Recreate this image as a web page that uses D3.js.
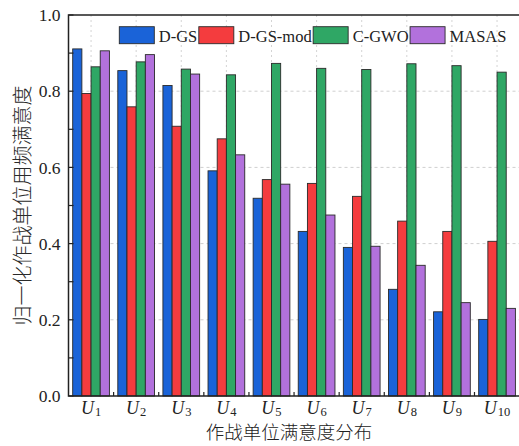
<!DOCTYPE html>
<html><head><meta charset="utf-8">
<script src="https://cdn.jsdelivr.net/npm/d3@7"></script>
<style>
html,body{margin:0;padding:0;background:#fff;}
svg{display:block;}
</style></head>
<body>
<script>
const categories = ["U1","U2","U3","U4","U5","U6","U7","U8","U9","U10"];
const seriesNames = ["D-GS","D-GS-mod","C-GWO","MASAS"];
const dgs    = [0.911,0.854,0.815,0.591,0.519,0.432,0.390,0.280,0.221,0.201];
const dgsMod = [0.794,0.759,0.708,0.675,0.568,0.558,0.524,0.459,0.432,0.406];
const cgwo   = [0.864,0.877,0.858,0.843,0.873,0.860,0.857,0.872,0.867,0.850];
const masas  = [0.906,0.896,0.845,0.633,0.556,0.475,0.393,0.343,0.245,0.230];
const colors = ["#1a63d8","#f43c3e","#2fa765","#b271dc"];
const yTicks = [0.0,0.2,0.4,0.6,0.8,1.0];
const xTitle = "作战单位满意度分布";
const yTitle = "归一化作战单位用频满意度";

const W = 519, H = 446;
const M = {left:68.5, right:519.6, top:15, bottom:396};
const seriesData = [dgs, dgsMod, cgwo, masas];

const svg = d3.select("body").append("svg").attr("width",W).attr("height",H);

const x = d3.scaleBand().domain(categories).range([M.left, M.right])
  .paddingInner(0.186).paddingOuter(0.093);
const xs = d3.scaleBand().domain(seriesNames).range([0, x.bandwidth()]);
const y = d3.scaleLinear().domain([0,1]).range([M.bottom, M.top]);

// grid
const grid = svg.append("g");
grid.selectAll("line.h").data(yTicks.filter(t=>t>0 && t<1)).join("line")
  .attr("x1",M.left).attr("x2",M.right).attr("y1",d=>y(d)).attr("y2",d=>y(d))
  .attr("stroke","#cfcfcf").attr("stroke-width",1).attr("stroke-dasharray","3,3");
grid.selectAll("line.v").data(categories).join("line")
  .attr("x1",d=>x(d)+x.bandwidth()/2).attr("x2",d=>x(d)+x.bandwidth()/2)
  .attr("y1",M.top).attr("y2",M.bottom)
  .attr("stroke","#d4d4d4").attr("stroke-width",1).attr("stroke-dasharray","2,3");

// bars
const rows = [];
categories.forEach((c,i)=>seriesNames.forEach((s,j)=>rows.push({c,s,j,v:seriesData[j][i]})));
svg.append("g").selectAll("rect").data(rows).join("rect")
  .attr("x",d=>x(d.c)+xs(d.s)).attr("width",xs.bandwidth())
  .attr("y",d=>y(d.v)).attr("height",d=>y(0)-y(d.v))
  .attr("fill",d=>colors[d.j]).attr("stroke","#2a2a2a").attr("stroke-width",0.9);

// y axis
const yAxis = d3.axisLeft(y).tickValues(yTicks).tickFormat(d3.format(".1f")).tickSize(0).tickPadding(8);
const gy = svg.append("g").attr("transform",`translate(${M.left},0)`).call(yAxis);
gy.select(".domain").remove();
gy.selectAll("text").attr("font-family","'Liberation Serif',serif").attr("font-size",17.5).attr("fill","#222");
svg.append("g").selectAll("line").data(d3.range(0,1.0001,0.1)).join("line")
  .attr("x1",M.left).attr("x2",M.left+5).attr("y1",d=>y(d)).attr("y2",d=>y(d))
  .attr("stroke","#222").attr("stroke-width",1.2);

// x ticks at boundaries
const bounds = categories.slice(0,-1).map(c=>x(c)+x.bandwidth()+(x.step()-x.bandwidth())/2);
svg.append("g").selectAll("line").data(bounds).join("line")
  .attr("x1",d=>d).attr("x2",d=>d).attr("y1",M.bottom).attr("y2",M.bottom-4)
  .attr("stroke","#222").attr("stroke-width",1.2);

// frame
svg.append("path")
  .attr("d",`M${M.right+2},${M.top}H${M.left}V${M.bottom}H${M.right+2}`)
  .attr("fill","none").attr("stroke","#222").attr("stroke-width",1.5);

// x labels
const xl = svg.append("g").selectAll("text").data(categories).join("text")
  .attr("x",d=>x(d)+x.bandwidth()/2).attr("y",414)
  .attr("text-anchor","middle").attr("font-family","'Liberation Serif',serif").attr("fill","#222");
xl.append("tspan").attr("font-style","italic").attr("font-size",18).text(d=>d[0]);
xl.append("tspan").attr("font-size",12.5).attr("dy",2).attr("dx",1).text(d=>d.slice(1));

// titles
svg.append("text").attr("x",289).attr("y",438.5).attr("text-anchor","middle")
  .attr("font-family","'Noto Sans CJK SC',sans-serif").attr("font-weight",300).attr("font-size",18.5).attr("fill","#222")
  .text(xTitle);
svg.append("text").attr("transform",`translate(30,${(M.top+M.bottom)/2}) rotate(-90)`)
  .attr("text-anchor","middle")
  .attr("font-family","'Noto Sans CJK SC',sans-serif").attr("font-weight",300).attr("font-size",20).attr("fill","#2a2a2a")
  .text(yTitle);

// legend
const lg = svg.append("g");
let lx = 119.3;
seriesNames.forEach((s,j)=>{
  lg.append("rect").attr("x",lx).attr("y",26.7).attr("width",35).attr("height",17)
    .attr("fill",colors[j]).attr("stroke","#2a2a2a").attr("stroke-width",0.9);
  const t = lg.append("text").attr("x",lx+39.5).attr("y",41.5)
    .attr("font-family","'Liberation Serif',serif").attr("font-size",16.5).attr("fill","#222").text(s);
  lx = lx + 39.5 + t.node().getComputedTextLength() + 1.5;
});
</script>
</body></html>
